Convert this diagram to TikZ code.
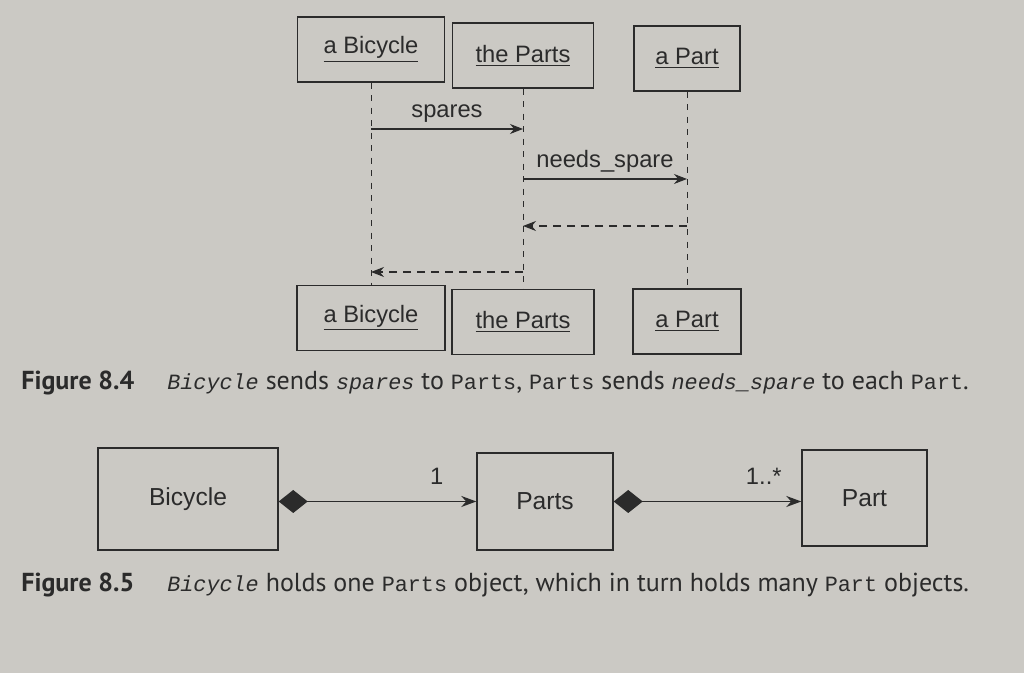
\documentclass[tikz,border=0pt]{standalone}
\usepackage{fontspec}
\setmainfont{Liberation Sans}
\setmonofont{Liberation Mono}
\newfontfamily\capfont{PT Sans}
\usepackage{xcolor}
\usepackage{tikz}
\usetikzlibrary{arrows.meta, positioning}
\definecolor{paper}{HTML}{CBC9C4}
\definecolor{ink}{HTML}{2B2B2B}
\newcommand{\codeit}[1]{{\ttfamily\itshape\fontsize{12.4}{16}\selectfont #1}}
\newcommand{\codeup}[1]{{\ttfamily\fontsize{12.4}{16}\selectfont #1}}

\begin{document}
\begin{tikzpicture}[
        font=\fontsize{13.5}{16}\selectfont,
        every node/.style={text=ink},
        objbox/.style={
            draw=ink,
            line width=0.7pt,
            minimum height=1.3cm,
            inner sep=0pt
        },
        classbox/.style={
            draw=ink,
            line width=0.8pt,
            font=\fontsize{14}{16}\selectfont,
            inner sep=0pt
        },
        lifeline/.style={draw=ink, line width=0.5pt, dash pattern=on 1.2mm off 1.3mm},
        message/.style={-{Stealth[length=2.6mm, width=2mm]}, line width=0.6pt, draw=ink},
        reply/.style={-{Stealth[length=2.6mm, width=2mm]}, line width=0.6pt, draw=ink, dash pattern=on 1.6mm off 1.2mm},
        composition/.style={{Diamond[length=5.8mm, width=4.6mm]}-{Stealth[length=3mm, width=2.2mm]}, line width=0.7pt, draw=ink},
        caption/.style={anchor=west, inner sep=0pt, font=\capfont\fontsize{14.8}{16}\selectfont}
    ]
        \fill[paper] (0,0) rectangle (20.48,13.46);

        \node[objbox, minimum width=2.94cm] (bicTop) at (7.42,12.47) {\underline{a Bicycle}};
        \node[objbox, minimum width=2.82cm] (partsTop) at (10.46,12.35) {\underline{the Parts}};
        \node[objbox, minimum width=2.12cm] (partTop) at (13.74,12.29) {\underline{a Part}};

        \node[objbox, minimum width=2.96cm] (bicBot) at (7.42,7.10) {\underline{a Bicycle}};
        \node[objbox, minimum width=2.84cm] (partsBot) at (10.46,7.02) {\underline{the Parts}};
        \node[objbox, minimum width=2.16cm] (partBot) at (13.74,7.03) {\underline{a Part}};

        \draw[lifeline] (bicTop.south) -- (bicBot.north);
        \draw[lifeline] (partsTop.south) -- (partsBot.north);
        \draw[lifeline] (partTop.south) -- (partBot.north);

        \coordinate (rowSpares) at (0,10.88);
        \coordinate (rowNeeds) at (0,9.88);
        \coordinate (rowBackPart) at (0,8.94);
        \coordinate (rowBackParts) at (0,8.02);

        \draw[message] (bicTop |- rowSpares) -- node[above] {spares} (partsTop |- rowSpares);
        \draw[message] (partsTop |- rowNeeds) -- node[above] {needs\_spare} (partTop |- rowNeeds);
        \draw[reply] (partTop |- rowBackPart) -- (partsTop |- rowBackPart);
        \draw[reply] (partsTop |- rowBackParts) -- (bicTop |- rowBackParts);

        \node[caption] (capSeq) at (0.42,5.80) {\textbf{Figure 8.4}\hspace{0.66cm}\codeit{Bicycle} sends \codeit{spares} to \codeup{Parts}, \codeup{Parts} sends \codeit{needs\_spare} to each \codeup{Part}.};

        \node[classbox, minimum width=3.60cm, minimum height=2.04cm] (bicycle) at (3.76,3.48) {Bicycle};
        \node[classbox, minimum width=2.72cm, minimum height=1.94cm] (parts) at (10.90,3.43) {Parts};
        \node[classbox, minimum width=2.50cm, minimum height=1.92cm] (part) at (17.29,3.50) {Part};

        \draw[composition] (bicycle.east |- parts.west) -- node[pos=0.8, above=0.22cm] {1} (parts.west);
        \draw[composition] (parts.east) -- node[pos=0.8, above=0.22cm] {1..*} (parts.east -| part.west);

        \node[caption] (capClass) at (0.42,1.76) {\textbf{Figure 8.5}\hspace{0.66cm}\codeit{Bicycle} holds one \codeup{Parts} object, which in turn holds many \codeup{Part} objects.};
    \end{tikzpicture}
\end{document}
